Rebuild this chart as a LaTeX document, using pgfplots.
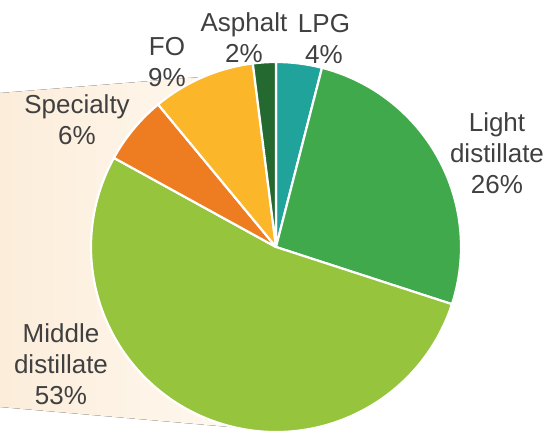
\documentclass[border=0pt]{standalone}
\usepackage{pgfplots}
\pgfplotsset{compat=1.18}
\usepackage{fontspec}
\setmainfont{Liberation Sans}
\definecolor{cLPG}{HTML}{1FA39B}
\definecolor{cLight}{HTML}{3FA94B}
\definecolor{cMiddle}{HTML}{96C43D}
\definecolor{cSpec}{HTML}{EE7D22}
\definecolor{cFO}{HTML}{FBB62A}
\definecolor{cAsph}{HTML}{236930}
\definecolor{txt}{HTML}{404040}
\definecolor{bgL}{HTML}{FCEDDA}
\definecolor{bgR}{HTML}{FFFAF3}
% slice: cumulative start %, cumulative end %, colour
\newcommand{\slice}[3]{%
  \filldraw[fill=#3, draw=white, line width=2.2pt, line join=round]
    (axis cs:276,184) -- ++({90-3.6*#1}:185pt)
    arc[start angle={90-3.6*#1}, end angle={90-3.6*#2}, radius=185pt] -- cycle;}
\begin{document}
\begin{tikzpicture}
\begin{axis}[
  hide axis, x=1pt, y=1pt, scale only axis,
  xmin=0, xmax=550, ymin=0, ymax=431,
  clip=true,
]
% background funnel
\fill[left color=bgL, right color=bgR] (axis cs:0,338) -- (axis cs:276,360) -- (axis cs:276,0) -- (axis cs:0,24) -- cycle;
% values (%): LPG 4, Light distillate 26, Middle distillate 53, Specialty 6, FO 9, Asphalt 2
\slice{0}{4}{cLPG}
\slice{4}{30}{cLight}
\slice{30}{83}{cMiddle}
\slice{83}{89}{cSpec}
\slice{89}{98}{cFO}
\slice{98}{100}{cAsph}
\begin{scope}[every node/.style={align=center, text=txt, font=\fontsize{26}{31}\selectfont, inner sep=0pt}]
\node at (axis cs:244,393) {Asphalt\\2\%};
\node at (axis cs:324,392) {LPG\\4\%};
\node at (axis cs:167,369) {FO\\9\%};
\node at (axis cs:77,311) {Specialty\\6\%};
\node at (axis cs:497,278) {Light\\distillate\\26\%};
\node at (axis cs:61,67) {Middle\\distillate\\53\%};
\end{scope}
\end{axis}
\pgfresetboundingbox
\path[use as bounding box] (current axis.south west) rectangle (current axis.north east);
\end{tikzpicture}
\end{document}
